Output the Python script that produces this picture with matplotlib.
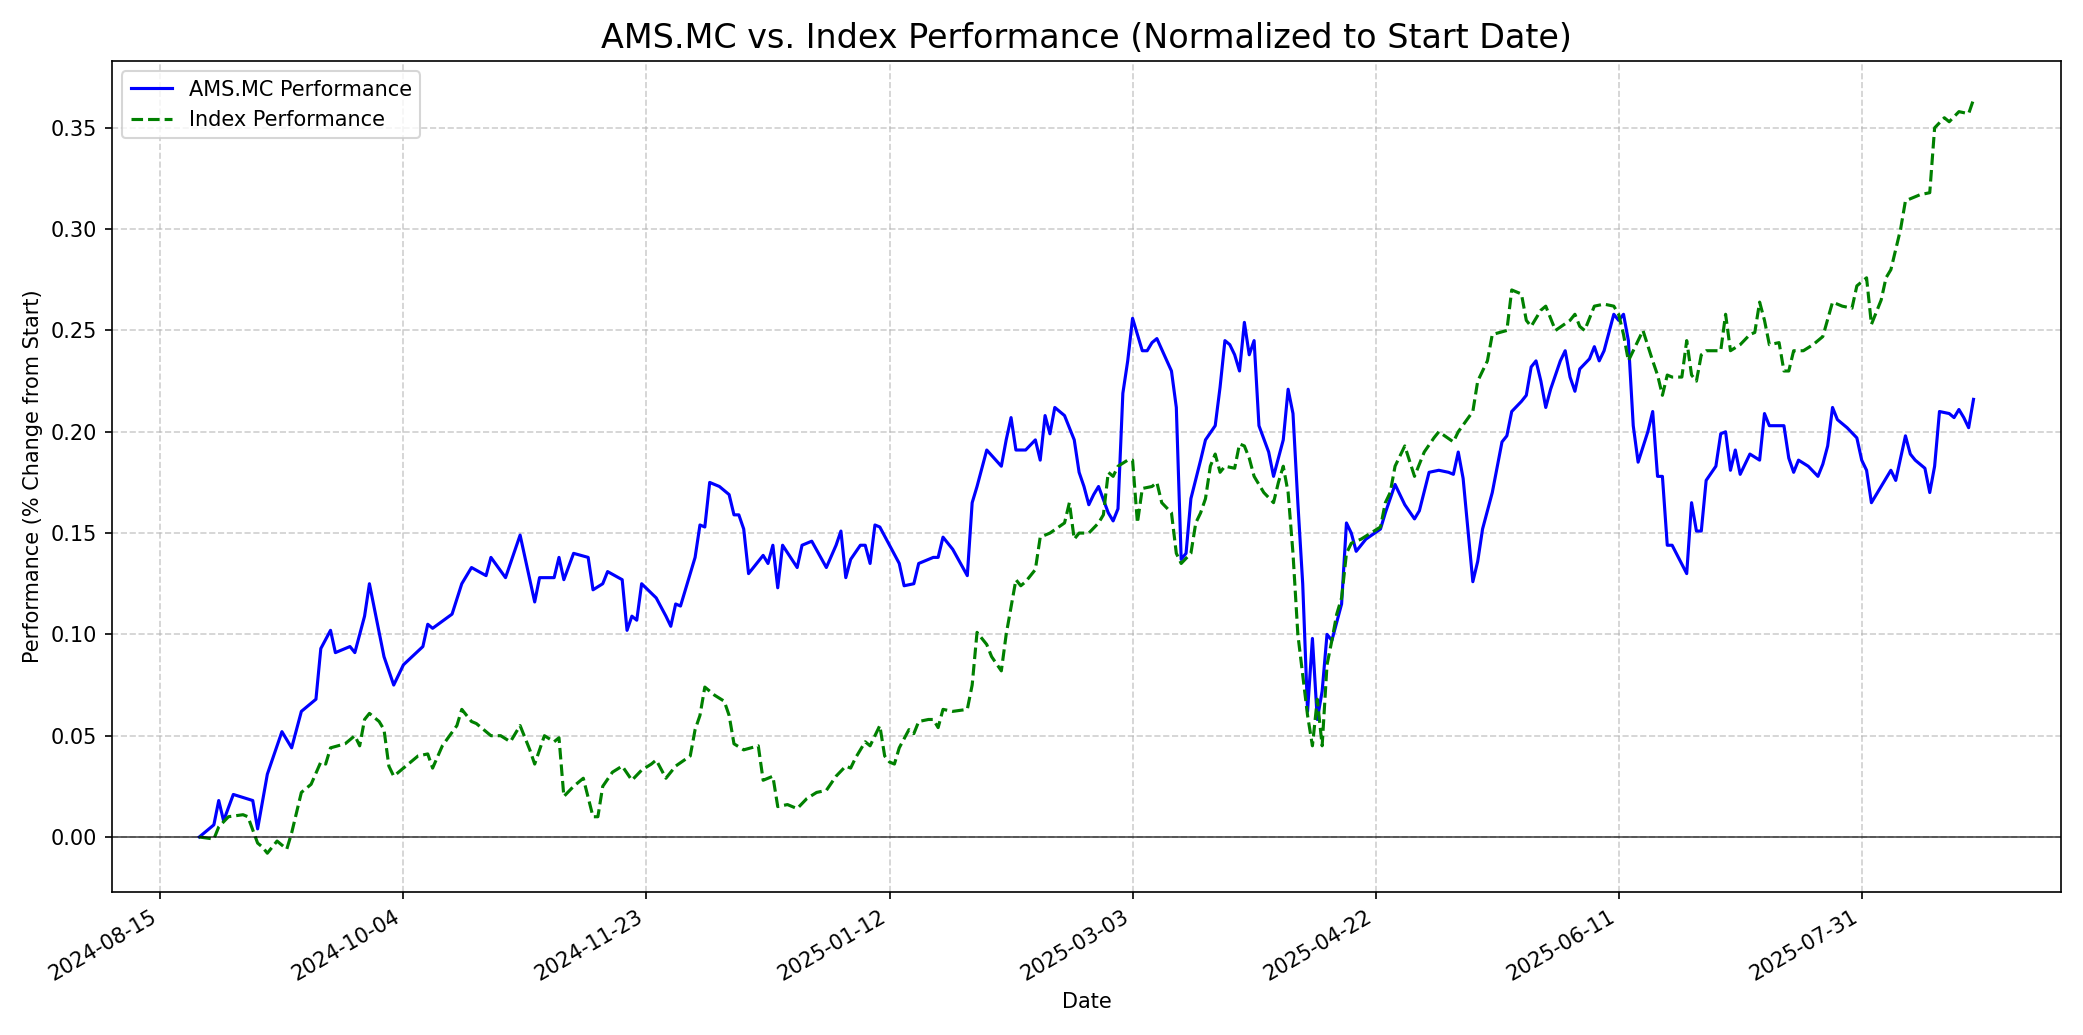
import numpy as np
import pandas as pd
import matplotlib
matplotlib.use('Agg')
import matplotlib.pyplot as plt

START = pd.Timestamp('2024-08-15')

# Blue: AMS.MC performance (day offset from 2024-08-15, value)
STOCK_DAYS = [8, 11, 12, 13, 15, 19, 20, 22, 25, 27, 29, 32, 33, 35, 36, 39, 40, 42, 43, 46,
              48, 50, 54, 55, 56, 60, 62, 64, 67, 68, 71, 74, 77, 78, 81, 82, 83, 85, 88, 89,
              91, 92, 95, 96, 97, 98, 99, 102, 104, 105, 106, 107, 110, 111, 112, 113, 115, 117, 118, 119,
              120, 121, 123, 124, 125, 126, 127, 128, 131, 132, 134, 137, 139, 140, 141, 142, 144, 145, 146, 147,
              148, 150, 152, 153, 155, 156, 159, 160, 161, 163, 166, 167, 168, 170, 173, 174, 175, 176, 178, 180,
              181, 182, 183, 184, 186, 188, 189, 190, 191, 192, 193, 195, 196, 197, 198, 199, 200, 202, 203, 204,
              205, 208, 209, 210, 211, 212, 214, 215, 217, 218, 219, 220, 221, 222, 223, 224, 225, 226, 228, 229,
              231, 232, 233, 234, 235, 236, 237, 238, 239, 240, 241, 243, 244, 245, 246, 248, 251, 252, 254, 256,
              258, 259, 261, 263, 265, 266, 267, 268, 270, 271, 272, 273, 274, 276, 277, 278, 280, 281, 282, 283,
              284, 285, 286, 288, 289, 290, 291, 292, 294, 295, 296, 297, 299, 300, 301, 302, 303, 304, 306, 307,
              308, 309, 310, 311, 314, 315, 316, 317, 318, 320, 321, 322, 323, 324, 325, 326, 327, 329, 330, 331,
              332, 334, 335, 336, 337, 339, 341, 342, 343, 344, 345, 347, 349, 350, 351, 352, 354, 356, 357, 359,
              360, 361, 363, 364, 365, 366, 368, 369, 370, 371, 372, 373]
STOCK_PERF = [.000, .006, .018, .008, .021, .018, .004, .031, .052, .044, .062, .068, .093, .102, .091, .094, .091, .109, .125, .089,
              .075, .085, .094, .105, .103, .110, .125, .133, .129, .138, .128, .149, .116, .128, .128, .138, .127, .140, .138, .122,
              .125, .131, .127, .102, .109, .107, .125, .118, .109, .104, .115, .114, .138, .154, .153, .175, .173, .169, .159, .159,
              .152, .130, .136, .139, .135, .144, .123, .144, .133, .144, .146, .133, .144, .151, .128, .137, .144, .144, .135, .154,
              .153, .144, .135, .124, .125, .135, .138, .138, .148, .142, .129, .165, .173, .191, .183, .196, .207, .191, .191, .196,
              .186, .208, .199, .212, .208, .196, .180, .173, .164, .169, .173, .160, .156, .162, .219, .235, .256, .240, .240, .244,
              .246, .230, .212, .137, .140, .167, .186, .196, .203, .222, .245, .243, .238, .230, .254, .238, .245, .203, .190, .178,
              .196, .221, .209, .165, .125, .062, .098, .058, .072, .100, .097, .115, .155, .150, .141, .147, .152, .160, .174, .164,
              .157, .161, .180, .181, .180, .179, .190, .177, .126, .136, .152, .161, .170, .195, .198, .210, .215, .218, .232, .235,
              .225, .212, .221, .235, .240, .227, .220, .231, .236, .242, .235, .240, .258, .255, .258, .245, .203, .185, .200, .210,
              .178, .178, .144, .144, .130, .165, .151, .151, .176, .183, .199, .200, .181, .191, .179, .184, .189, .186, .209, .203,
              .203, .203, .187, .180, .186, .183, .178, .184, .193, .212, .206, .202, .197, .186, .181, .165, .173, .181, .176, .198,
              .189, .186, .182, .170, .183, .210, .209, .207, .211, .207, .202, .216]

# Green: index performance
INDEX_DAYS = [8, 11, 12, 14, 17, 18, 20, 21, 22, 24, 26, 27, 29, 31, 33, 34, 35, 38, 40, 41,
              42, 43, 45, 46, 47, 48, 50, 53, 55, 56, 58, 61, 62, 64, 65, 68, 70, 72, 74, 76,
              77, 79, 81, 82, 83, 85, 87, 89, 90, 91, 93, 95, 97, 99, 101, 102, 104, 106, 109, 110,
              111, 112, 114, 116, 117, 118, 120, 123, 124, 126, 127, 129, 131, 133, 135, 137, 139, 141, 142, 143,
              145, 146, 148, 149, 150, 151, 152, 154, 155, 156, 158, 159, 160, 161, 163, 166, 167, 168, 170, 171,
              173, 174, 176, 177, 178, 180, 181, 183, 186, 187, 188, 189, 191, 193, 194, 195, 196, 197, 199, 200,
              201, 202, 204, 205, 206, 208, 209, 210, 212, 213, 214, 215, 216, 217, 218, 219, 221, 222, 223, 224,
              225, 227, 229, 230, 231, 232, 233, 234, 235, 236, 237, 238, 239, 240, 241, 242, 243, 244, 245, 247,
              249, 251, 252, 253, 254, 255, 256, 258, 260, 262, 263, 266, 267, 270, 271, 273, 274, 277, 278, 280,
              281, 282, 284, 285, 287, 290, 291, 292, 293, 295, 297, 299, 300, 301, 302, 304, 305, 307, 308, 309,
              310, 311, 313, 314, 315, 316, 317, 318, 321, 322, 323, 325, 327, 328, 329, 330, 331, 333, 334, 335,
              336, 338, 340, 342, 344, 346, 348, 349, 351, 352, 354, 355, 356, 358, 359, 362, 364, 365, 367, 368,
              370, 372, 373]
INDEX_PERF = [.000, -.001, .005, .010, .011, .010, -.003, -.005, -.008, -.002, -.006, .002, .022, .026, .037, .036, .044, .046, .050, .045,
              .058, .061, .057, .053, .035, .030, .034, .040, .041, .034, .045, .055, .063, .057, .056, .050, .050, .047, .055, .043,
              .036, .050, .047, .049, .020, .025, .029, .010, .010, .025, .032, .035, .028, .033, .036, .038, .029, .035, .040, .053,
              .060, .074, .070, .067, .060, .046, .043, .045, .028, .030, .015, .016, .014, .019, .022, .023, .030, .035, .034, .039,
              .047, .045, .055, .040, .037, .036, .044, .053, .051, .057, .058, .058, .054, .063, .062, .063, .075, .101, .095, .089,
              .082, .100, .127, .124, .126, .132, .148, .150, .155, .165, .147, .150, .150, .155, .159, .180, .178, .183, .186, .186,
              .155, .172, .173, .175, .165, .160, .140, .135, .140, .155, .160, .167, .183, .189, .180, .183, .182, .194, .193, .187,
              .178, .170, .165, .175, .183, .170, .140, .100, .080, .060, .045, .068, .045, .085, .097, .110, .118, .140, .145, .147,
              .150, .153, .165, .170, .183, .188, .193, .178, .190, .197, .200, .195, .200, .210, .225, .235, .248, .250, .270, .268,
              .255, .252, .260, .262, .250, .255, .258, .252, .250, .262, .263, .262, .258, .248, .235, .245, .250, .235, .228, .218,
              .228, .227, .227, .245, .228, .225, .238, .240, .240, .258, .240, .243, .248, .249, .264, .255, .243, .244, .230, .230,
              .240, .240, .243, .247, .264, .262, .261, .272, .276, .253, .265, .276, .280, .300, .314, .317, .318, .350, .355, .353,
              .358, .357, .364]

stock_dates = START + pd.to_timedelta(STOCK_DAYS, unit='D')
index_dates = START + pd.to_timedelta(INDEX_DAYS, unit='D')
TICK_DATES = pd.date_range(START, periods=8, freq='50D')

fig, ax = plt.subplots(figsize=(13.89, 6.9), dpi=150)
ax.plot(stock_dates, STOCK_PERF, color='blue', lw=1.5, label='AMS.MC Performance')
ax.plot(index_dates, INDEX_PERF, color='green', lw=1.5, ls='--', label='Index Performance')
ax.axhline(0, color='black', lw=0.8, alpha=0.7)

ax.set_xticks(TICK_DATES)
ax.set_xticklabels([d.strftime('%Y-%m-%d') for d in TICK_DATES])
ax.set_xlim(START - pd.Timedelta(days=10), START + pd.Timedelta(days=391))
ax.set_ylim(-0.027, 0.383)
ax.grid(True, ls='--', alpha=0.6)
ax.set_title('AMS.MC vs. Index Performance (Normalized to Start Date)', fontsize=16)
ax.set_xlabel('Date')
ax.set_ylabel('Performance (% Change from Start)')
ax.legend(loc='upper left')
fig.autofmt_xdate()
fig.tight_layout()
fig.savefig('out.png', dpi=150)
